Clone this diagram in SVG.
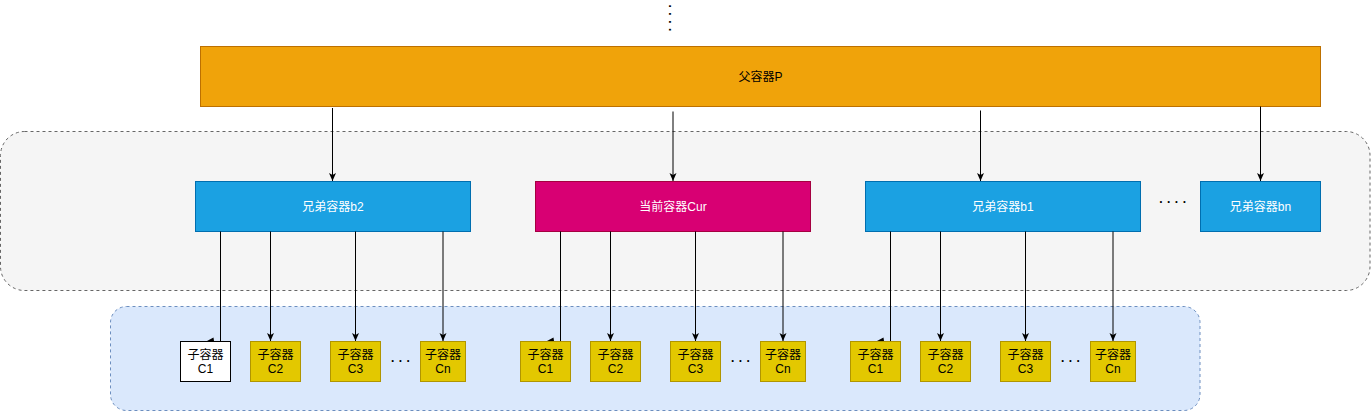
<svg xmlns="http://www.w3.org/2000/svg" width="1371" height="412" viewBox="0 0 1371 412">
<style>
text{font-family:"Liberation Sans","Noto Sans CJK SC",sans-serif;font-size:12px;text-anchor:middle}
.dots{text-anchor:start;letter-spacing:4.5px;fill:#000;font-weight:bold}
.par{fill:#f0a30a;stroke:#BD7000}
.blue{fill:#1ba1e2;stroke:#006EAF}
.pink{fill:#d80073;stroke:#A50040}
.wt{fill:#fff}
.child{fill:#e3c800;stroke:#B09500}
.childw{fill:#fff;stroke:#000}
.edge{stroke:#000;stroke-width:1;fill:none}
</style>
<defs>
<marker id="arr" markerUnits="userSpaceOnUse" markerWidth="9" markerHeight="8" refX="8" refY="3.5" orient="auto" viewBox="0 0 9 8">
<path d="M0,0 L8,3.5 L0,7 L2,3.5 Z" fill="#000"/>
</marker>
</defs>
<g id="containers">
<rect x="0.5" y="131.5" width="1369.5" height="159" rx="24" ry="24" fill="#f5f5f5" stroke="#666666" stroke-dasharray="3,3"/>
<rect x="110.5" y="306.5" width="1089.5" height="104" rx="16" ry="16" fill="#dae8fc" stroke="#6c8ebf" stroke-dasharray="3,3"/>
</g>
<g id="top-dots"><text class="dots" transform="translate(668.5,4.5) rotate(90)">....</text></g>
<g id="parent">
<rect class="par" x="200.5" y="46.5" width="1120" height="60"/>
<text x="760.5" y="80.5">父容器P</text>
</g>
<g id="b2">
<rect class="blue" x="195.5" y="181.5" width="275" height="50"/>
<text class="wt" x="333" y="210.5">兄弟容器b2</text>
</g>
<g id="cur">
<rect class="pink" x="535.5" y="181.5" width="275" height="50"/>
<text class="wt" x="673" y="210.5">当前容器Cur</text>
</g>
<g id="b1">
<rect class="blue" x="865.5" y="181.5" width="275" height="50"/>
<text class="wt" x="1003" y="210.5">兄弟容器b1</text>
</g>
<g id="sib-dots"><text class="dots" x="1159.2" y="202.5">....</text></g>
<g id="bn">
<rect class="blue" x="1200.5" y="181.5" width="120" height="50"/>
<text class="wt" x="1260.5" y="210.5">兄弟容器bn</text>
</g>
<g id="b2-c1"><rect class="childw" x="180.5" y="341.5" width="50" height="40"/><text x="205.5" y="359">子容器</text><text x="205.5" y="373">C1</text></g>
<g id="b2-c2"><rect class="child" x="250.5" y="341.5" width="50" height="40"/><text x="275.5" y="359">子容器</text><text x="275.5" y="373">C2</text></g>
<g id="b2-c3"><rect class="child" x="330.5" y="341.5" width="50" height="40"/><text x="355.5" y="359">子容器</text><text x="355.5" y="373">C3</text></g>
<g id="b2-dots"><text class="dots" x="390.9" y="362">...</text></g>
<g id="b2-cn"><rect class="child" x="420.5" y="341.5" width="45" height="40"/><text x="443" y="359">子容器</text><text x="443" y="373">Cn</text></g>
<g id="cur-c1"><rect class="child" x="520.5" y="341.5" width="50" height="40"/><text x="545.5" y="359">子容器</text><text x="545.5" y="373">C1</text></g>
<g id="cur-c2"><rect class="child" x="590.5" y="341.5" width="50" height="40"/><text x="615.5" y="359">子容器</text><text x="615.5" y="373">C2</text></g>
<g id="cur-c3"><rect class="child" x="670.5" y="341.5" width="50" height="40"/><text x="695.5" y="359">子容器</text><text x="695.5" y="373">C3</text></g>
<g id="cur-dots"><text class="dots" x="730.9" y="362">...</text></g>
<g id="cur-cn"><rect class="child" x="760.5" y="341.5" width="45" height="40"/><text x="783" y="359">子容器</text><text x="783" y="373">Cn</text></g>
<g id="b1-c1"><rect class="child" x="850.5" y="341.5" width="50" height="40"/><text x="875.5" y="359">子容器</text><text x="875.5" y="373">C1</text></g>
<g id="b1-c2"><rect class="child" x="920.5" y="341.5" width="50" height="40"/><text x="945.5" y="359">子容器</text><text x="945.5" y="373">C2</text></g>
<g id="b1-c3"><rect class="child" x="1000.5" y="341.5" width="50" height="40"/><text x="1025.5" y="359">子容器</text><text x="1025.5" y="373">C3</text></g>
<g id="b1-dots"><text class="dots" x="1060.9" y="362">...</text></g>
<g id="b1-cn"><rect class="child" x="1090.5" y="341.5" width="45" height="40"/><text x="1113" y="359">子容器</text><text x="1113" y="373">Cn</text></g>
<g id="connectors">
<line class="edge" x1="332.5" y1="108" x2="332.5" y2="181" marker-end="url(#arr)"/>
<line class="edge" x1="673" y1="111.5" x2="673" y2="181" marker-end="url(#arr)"/>
<line class="edge" x1="980.5" y1="110.5" x2="980.5" y2="181" marker-end="url(#arr)"/>
<line class="edge" x1="1260.5" y1="106.5" x2="1260.5" y2="181" marker-end="url(#arr)"/>
<line class="edge" x1="220.5" y1="231.5" x2="220.5" y2="341"/>
<polygon points="207,341 213.5,337.5 214,341" fill="#000"/>
<line class="edge" x1="270.5" y1="231.5" x2="270.5" y2="341" marker-end="url(#arr)"/>
<line class="edge" x1="355.5" y1="231.5" x2="355.5" y2="341" marker-end="url(#arr)"/>
<line class="edge" x1="443" y1="231.5" x2="443" y2="341" marker-end="url(#arr)"/>
<line class="edge" x1="560.5" y1="231.5" x2="560.5" y2="341"/>
<polygon points="547,341 553.5,337.5 554,341" fill="#000"/>
<line class="edge" x1="610.5" y1="231.5" x2="610.5" y2="341" marker-end="url(#arr)"/>
<line class="edge" x1="695.5" y1="231.5" x2="695.5" y2="341" marker-end="url(#arr)"/>
<line class="edge" x1="783" y1="231.5" x2="783" y2="341" marker-end="url(#arr)"/>
<line class="edge" x1="890.5" y1="231.5" x2="890.5" y2="341"/>
<polygon points="877,341 883.5,337.5 884,341" fill="#000"/>
<line class="edge" x1="940.5" y1="231.5" x2="940.5" y2="341" marker-end="url(#arr)"/>
<line class="edge" x1="1025.5" y1="231.5" x2="1025.5" y2="341" marker-end="url(#arr)"/>
<line class="edge" x1="1113" y1="231.5" x2="1113" y2="341" marker-end="url(#arr)"/>
</g>
</svg>
